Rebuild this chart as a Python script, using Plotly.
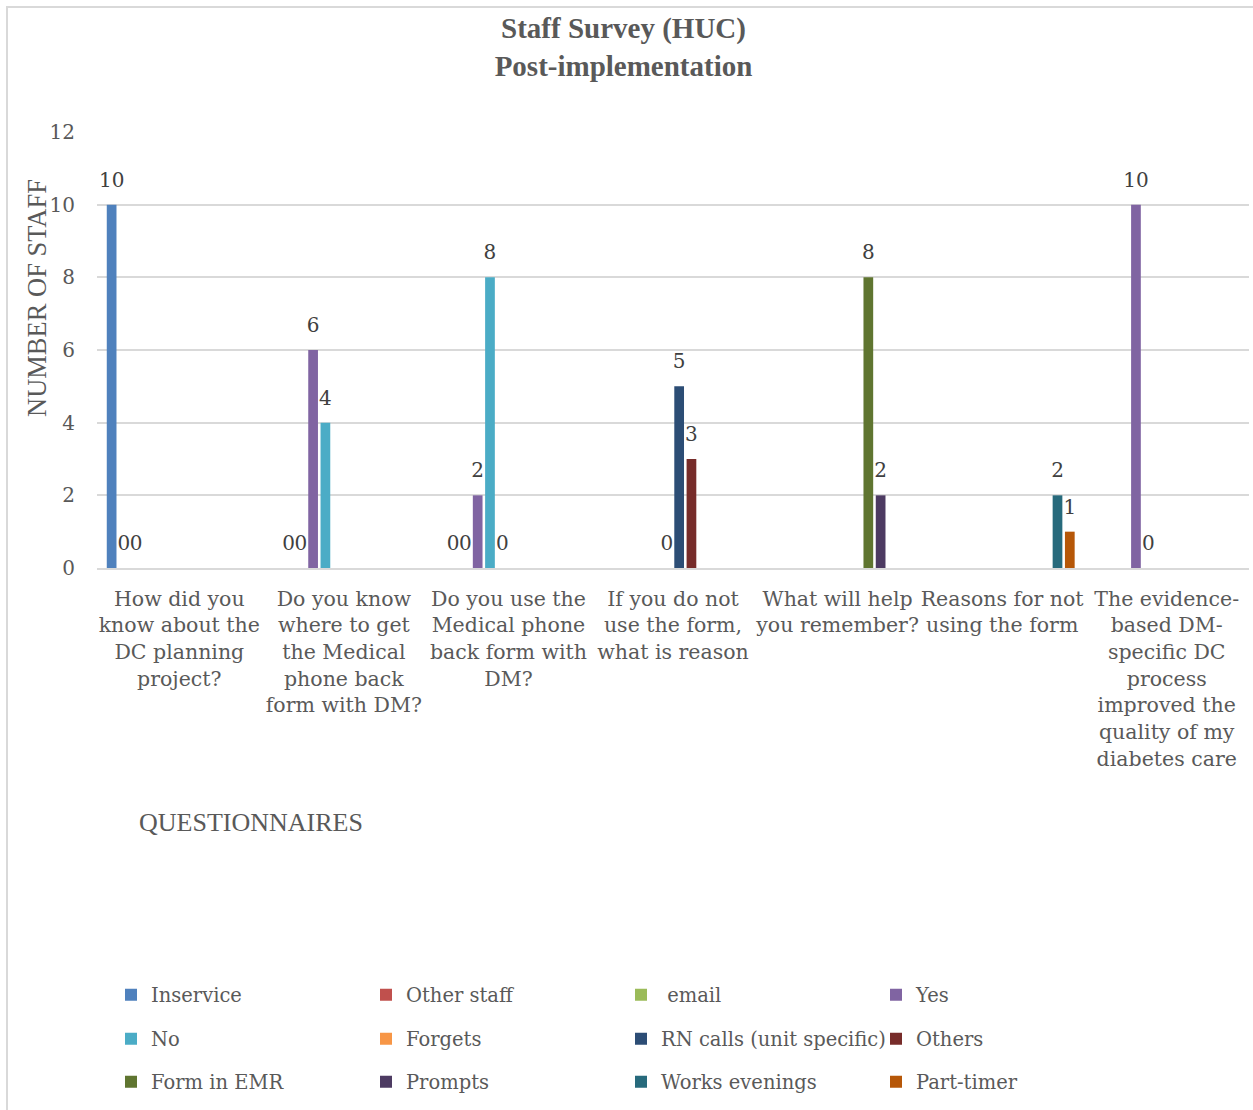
import plotly.graph_objects as go

# ---------------- data ----------------
categories = [
    "How did you know about the DC planning project?",
    "Do you know where to get the Medical phone back form with DM?",
    "Do you use the Medical phone back form with DM?",
    "If you do not use the form, what is reason",
    "What will help you remember?",
    "Reasons for not using the form",
    "The evidence-based DM-specific DC process improved the quality of my diabetes care",
]
tick_labels = [
    "How did you<br>know about the<br>DC planning<br>project?",
    "Do you know<br>where to get<br>the Medical<br>phone back<br>form with DM?",
    "Do you use the<br>Medical phone<br>back form with<br>DM?",
    "If you do not<br>use the form,<br>what is reason",
    "What will help<br>you remember?",
    "Reasons for not<br>using the form",
    "The evidence-<br>based DM-<br>specific DC<br>process<br>improved the<br>quality of my<br>diabetes care",
]
N = None
inservice = [10, N, N, N, N, N, N]
other_staff = [0, 0, 0, N, N, N, N]
email = [0, 0, 0, N, N, N, N]
yes = [N, 6, 2, N, N, N, 10]
no = [N, 4, 8, N, N, N, 0]
forgets = [N, N, 0, 0, N, N, N]
rn_calls = [N, N, N, 5, N, N, N]
others = [N, N, N, 3, N, N, N]
form_in_emr = [N, N, N, N, 8, N, N]
prompts = [N, N, N, N, 2, N, N]
works_evenings = [N, N, N, N, N, 2, N]
part_timer = [N, N, N, N, N, 1, N]

series_names = ["Inservice", "Other staff", "\u00a0email", "Yes", "No", "Forgets",
                "RN calls (unit specific)", "Others", "Form in EMR", "Prompts",
                "Works evenings", "Part-timer"]
series_values = [inservice, other_staff, email, yes, no, forgets,
                 rn_calls, others, form_in_emr, prompts, works_evenings, part_timer]
colors = ["#4F81BD", "#C0504D", "#9BBB59", "#8064A2", "#4BACC6", "#F79646",
          "#2C4D75", "#772C2A", "#5F7530", "#4D3B62", "#276A7C", "#B65708"]

# ---------------- figure ----------------
W, H = 1253, 1110
PL, PR, PT, PB = 97, 1249, 132, 568  # plot area in pixels
pw, ph = PR - PL, PB - PT

def px_x(x):
    return (x - PL) / pw

def px_y(y):
    return (PB - y) / ph

SERIF = "DejaVu Serif"
TIMES = "Liberation Serif"
GREY = "#595959"

fig = go.Figure()
legend_ids = ["legend", "legend2", "legend3"]
for i, (name, vals, col) in enumerate(zip(series_names, series_values, colors)):
    fig.add_trace(go.Bar(
        name=name, x=categories, y=vals,
        marker=dict(color=col, line=dict(width=0)),
        text=[None if v is None else str(v) for v in vals],
        texttemplate="<span style='font-size:20px'>%{text}</span><br>\u00a0",
        textposition="outside",
        constraintext="none",
        textfont=dict(family=SERIF, size=10, color="#404040"),
        cliponaxis=False,
        legend=legend_ids[i // 4],
    ))

legend_common = dict(
    orientation="h", entrywidth=210, entrywidthmode="pixels",
    font=dict(family=SERIF, size=19.5, color=GREY),
    xanchor="left", yanchor="middle", bgcolor="rgba(0,0,0,0)",
    traceorder="normal",
)
leg_x = px_x(111)

fig.update_layout(
    width=W, height=H,
    margin=dict(l=PL, r=W - PR, t=PT, b=H - PB, autoexpand=False),
    paper_bgcolor="white", plot_bgcolor="white",
    barmode="group", bargap=0.103, bargroupgap=0.21,
    uniformtext=dict(mode=False),
    title=dict(
        text="<b>Staff Survey (HUC)</b><br><b>Post-implementation</b>",
        font=dict(family=TIMES, size=29, color=GREY),
        x=623.5 / W, xanchor="center", xref="container",
        y=1 - 38 / H, yanchor="middle", yref="container",
    ),
    xaxis=dict(
        type="category", tickvals=categories, ticktext=tick_labels,
        tickfont=dict(family=SERIF, size=20.5, color=GREY),
        showgrid=False, showline=True, linecolor="#D9D9D9", linewidth=2,
        ticks="", tickangle=0, ticklabelstandoff=11,
    ),
    yaxis=dict(
        range=[0, 12], dtick=2, tick0=0,
        tickfont=dict(family=SERIF, size=20, color=GREY),
        showgrid=True, gridcolor="#D9D9D9", gridwidth=2,
        zeroline=False, showline=False, ticks="", ticklabelstandoff=21,
    ),
    legend=dict(legend_common, x=leg_x, y=px_y(995)),
    legend2=dict(legend_common, x=leg_x, y=px_y(1039)),
    legend3=dict(legend_common, x=leg_x, y=px_y(1082)),
    showlegend=True,
    annotations=[
        dict(text="NUMBER OF STAFF", xref="paper", yref="paper",
             x=px_x(37), y=px_y(298), xanchor="center", yanchor="middle",
             textangle=-90, showarrow=False,
             font=dict(family=TIMES, size=26.5, color=GREY)),
        dict(text="QUESTIONNAIRES", xref="paper", yref="paper",
             x=px_x(251), y=px_y(822), xanchor="center", yanchor="middle",
             showarrow=False,
             font=dict(family=TIMES, size=26, color=GREY)),
    ],
    shapes=[
        dict(type="rect", xref="paper", yref="paper",
             x0=px_x(7), x1=px_x(1265), y0=px_y(7), y1=px_y(1125),
             line=dict(color="#D9D9D9", width=2), fillcolor="rgba(0,0,0,0)",
             layer="below"),
    ],
)

fig.write_html("out.html")
